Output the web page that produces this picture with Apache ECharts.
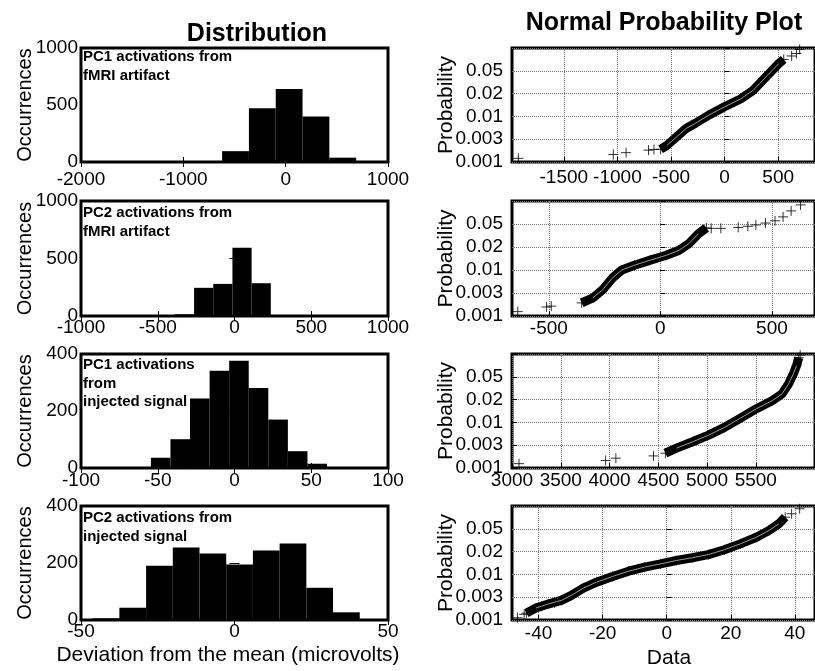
<!DOCTYPE html>
<html>
<head>
<meta charset="utf-8">
<title>Distribution / Normal Probability Plot</title>
<script src="https://cdn.jsdelivr.net/npm/echarts@6/dist/echarts.min.js"></script>
<style>
html, body { margin: 0; padding: 0; background: #fff; }
#main { width: 815px; height: 671px; }
</style>
</head>
<body>
<div id="main"></div>
<script>
// 直方图：各组中心与计数
var h1Bins = [-1800, -1538, -1276, -1014, -752, -490, -228, 34, 296, 558];
var h1Counts = [1, 0, 0, 2, 2, 95, 472, 641, 399, 38];
var h2Bins = [-576, -451, -326, -201, -76, 49, 174, 299, 424, 549];
var h2Counts = [1, 2, 15, 245, 279, 594, 285, 8, 6, 8];
var h3Bins = [-48.1, -35.35, -22.6, -9.85, 2.9, 15.65, 28.4, 41.15, 53.9];
var h3Counts = [36, 101, 244, 341, 376, 281, 170, 59, 15];
var h4Bins = [-41.85, -33.15, -24.45, -15.75, -7.05, 1.65, 10.35, 19.05, 27.75, 36.45];
var h4Counts = [6, 43, 190, 254, 233, 195, 244, 268, 113, 27];

// 正态概率图：y 为刻度序号 0..5，对应下面的标签
var probLabels = ['0.001', '0.003', '0.01', '0.02', '0.05', ''];

var p1Band = [[-597, 0.56], [-538, 0.73], [-448, 1.10], [-359, 1.47], [-269, 1.71], [-149, 2.05], [-1, 2.42],
  [148, 2.76], [268, 3.15], [357, 3.59], [446, 4.03], [506, 4.32], [551, 4.5]];
var p1Marks = [[-1924, 0.16], [-1038, 0.33], [-919, 0.41], [-710, 0.52], [-659, 0.55], [625, 4.65], [670, 4.76], [700, 4.94]];

var p2Band = [[-353, 0.57], [-302, 0.79], [-259, 1.14], [-216, 1.64], [-173, 2.0], [-116, 2.21], [-45, 2.43],
  [27, 2.64], [84, 2.86], [127, 3.14], [170, 3.57], [206, 3.83]];
var p2Marks = [[-639, 0.19], [-510, 0.39], [-489, 0.43], [228, 3.81], [271, 3.81], [349, 3.85], [392, 3.90],
  [428, 3.96], [471, 4.04], [514, 4.14], [550, 4.31], [586, 4.57], [628, 4.83]];

var p3Band = [[4573, 0.65], [4687, 0.87], [4852, 1.15], [5016, 1.44], [5179, 1.78], [5343, 2.19], [5507, 2.6],
  [5671, 2.96], [5769, 3.25], [5835, 3.68], [5884, 4.12], [5917, 4.48], [5940, 4.84]];
var p3Marks = [[3072, 0.19], [3960, 0.33], [4065, 0.43], [4451, 0.53], [5955, 4.95]];

var p4Band = [[-43.8, 0.3], [-40.8, 0.53], [-36.8, 0.71], [-32.9, 0.86], [-29.9, 1.07], [-25.9, 1.41], [-21.9, 1.66],
  [-16.9, 1.91], [-11.9, 2.14], [-6.9, 2.32], [-1.9, 2.46], [3.0, 2.61], [8.0, 2.73], [13.0, 2.87], [18.0, 3.08],
  [23.0, 3.34], [28.0, 3.63], [32.0, 3.93], [35.0, 4.22], [37.0, 4.51]];
var p4Marks = [[-46.6, 0.1], [-44.5, 0.25], [-42.0, 0.45], [-39.0, 0.6], [-35.0, 0.75], [39.0, 4.66], [41.5, 4.88]];

var FONT = '"Liberation Sans", Arial, Helvetica, sans-serif';
var rowTop = [48, 201, 354, 506];
var rowH = [114, 115, 114, 114];

var grids = [], xAxes = [], yAxes = [], series = [];

function pairs(xs, ys) {
  return xs.map(function (x, i) { return [x, ys[i]]; });
}
function plain(v) { return String(v); }

// 左列：直方图
var hists = [
  { bins: h1Bins, counts: h1Counts, xmin: -2000, xmax: 1000, xint: 1000, ymax: 1000, yint: 500, margin: 8 },
  { bins: h2Bins, counts: h2Counts, xmin: -1000, xmax: 1000, xint: 500, ymax: 1000, yint: 500, margin: 2 },
  { bins: h3Bins, counts: h3Counts, xmin: -100, xmax: 100, xint: 50, ymax: 400, yint: 200, margin: 3 },
  { bins: h4Bins, counts: h4Counts, xmin: -50, xmax: 50, xint: 50, ymax: 400, yint: 200, margin: 2 }
];
var tickStyle = { inside: true, length: 5, lineStyle: { color: '#000' } };
hists.forEach(function (h, i) {
  grids.push({ left: 81, top: rowTop[i], width: 307, height: rowH[i], show: true, borderColor: '#000', borderWidth: 3, backgroundColor: '#fff' });
  var gi = grids.length - 1;
  xAxes.push({
    type: 'value', gridIndex: gi, min: h.xmin, max: h.xmax, interval: h.xint,
    axisLine: { show: false }, splitLine: { show: false }, axisTick: tickStyle,
    axisLabel: { color: '#000', fontSize: 19, margin: h.margin, fontFamily: FONT, formatter: plain }
  });
  var xi = xAxes.length - 1;
  yAxes.push({
    type: 'value', gridIndex: gi, min: 0, max: h.ymax, interval: h.yint,
    axisLine: { show: false }, splitLine: { show: false }, axisTick: tickStyle,
    axisLabel: { color: '#000', fontSize: 19, margin: 3, fontFamily: FONT, formatter: plain }
  });
  var yi = yAxes.length - 1;
  // 上、右边框的刻度
  xAxes.push({
    type: 'value', gridIndex: gi, position: 'top', min: h.xmin, max: h.xmax, interval: h.xint,
    axisLine: { show: false }, splitLine: { show: false }, axisLabel: { show: false }, axisTick: tickStyle
  });
  yAxes.push({
    type: 'value', gridIndex: gi, position: 'right', min: 0, max: h.ymax, interval: h.yint,
    axisLine: { show: false }, splitLine: { show: false }, axisLabel: { show: false }, axisTick: tickStyle
  });
  series.push({
    type: 'bar', xAxisIndex: xi, yAxisIndex: yi,
    data: pairs(h.bins, h.counts), barWidth: '100%', silent: true,
    itemStyle: { color: '#000' }
  });
});

// 右列：正态概率图
var probs = [
  { band: p1Band, marks: p1Marks, xmin: -1983, xmax: 843, ticks: [-1500, -1000, -500, 0, 500], margin: 6 },
  { band: p2Band, marks: p2Marks, xmin: -665, xmax: 693, ticks: [-500, 0, 500], margin: 3 },
  { band: p3Band, marks: p3Marks, xmin: 3000, xmax: 6107, ticks: [3000, 3500, 4000, 4500, 5000, 5500], margin: 3 },
  { band: p4Band, marks: p4Marks, xmin: -48.3, xmax: 46.3, ticks: [-40, -20, 0, 20, 40], margin: 4 }
];
var plusSymbol = 'path://M5,0L5,10M0,5L10,5';
probs.forEach(function (p, i) {
  grids.push({ left: 512, top: rowTop[i], width: 316, height: rowH[i], show: true, borderColor: '#000', borderWidth: 3, backgroundColor: '#fff' });
  xAxes.push({
    type: 'value', gridIndex: grids.length - 1, min: p.xmin, max: p.xmax,
    axisLine: { show: false },
    splitLine: { show: true, lineStyle: { type: 'dotted', color: '#777' } },
    axisTick: { inside: true, length: 5, customValues: p.ticks, lineStyle: { color: '#000' } },
    axisLabel: { color: '#000', fontSize: 19, margin: p.margin, fontFamily: FONT, customValues: p.ticks, formatter: plain, hideOverlap: false }
  });
  yAxes.push({
    type: 'value', gridIndex: grids.length - 1, min: 0, max: 5, interval: 1,
    axisLine: { show: false },
    splitLine: { show: true, lineStyle: { type: 'dotted', color: '#777' } },
    axisTick: tickStyle,
    axisLabel: {
      color: '#000', fontSize: 19, margin: 9, fontFamily: FONT,
      formatter: function (v) { return probLabels[Math.round(v)]; }
    }
  });
  var xi = xAxes.length - 1, yi = yAxes.length - 1;
  series.push({
    type: 'line', xAxisIndex: xi, yAxisIndex: yi, data: p.band, symbol: 'none', silent: true,
    lineStyle: { color: '#000', width: 9 }
  });
  series.push({
    type: 'scatter', xAxisIndex: xi, yAxisIndex: yi, data: p.band.concat(p.marks), silent: true,
    symbol: plusSymbol, symbolSize: 10,
    itemStyle: { color: 'none', borderColor: '#000', borderWidth: 1 }
  });
  series.push({
    type: 'line', xAxisIndex: xi, yAxisIndex: yi, data: p.band.slice(1, -1), symbol: 'none', silent: true,
    lineStyle: { color: '#9a9a9a', width: 1 }
  });
});

// 文字
function txt(x, y, text, font, align, vAlign, rotation) {
  return {
    type: 'text', x: x, y: y, rotation: rotation || 0, silent: true, z: 100,
    style: {
      text: text, font: font, fill: '#000',
      align: align, textAlign: align, verticalAlign: vAlign, textVerticalAlign: vAlign,
      lineHeight: 18.5
    }
  };
}
var graphics = [
  txt(257, 34, 'Distribution', 'bold 25px ' + FONT, 'center', 'middle'),
  txt(664, 23, 'Normal Probability Plot', 'bold 25px ' + FONT, 'center', 'middle'),
  txt(83, 48, 'PC1 activations from\nfMRI artifact', 'bold 15px ' + FONT, 'left', 'top'),
  txt(83, 204, 'PC2 activations from\nfMRI artifact', 'bold 15px ' + FONT, 'left', 'top'),
  txt(83, 356, 'PC1 activations\nfrom\ninjected signal', 'bold 15px ' + FONT, 'left', 'top'),
  txt(83, 509, 'PC2 activations from\ninjected signal', 'bold 15px ' + FONT, 'left', 'top'),
  txt(228, 655, 'Deviation from the mean (microvolts)', '21px ' + FONT, 'center', 'middle'),
  txt(669, 658, 'Data', '21px ' + FONT, 'center', 'middle')
];
rowTop.forEach(function (t, i) {
  graphics.push(txt(25, t + rowH[i] / 2, 'Occurrences', '20px ' + FONT, 'center', 'middle', Math.PI / 2));
  graphics.push(txt(446, t + rowH[i] / 2, 'Probability', '21px ' + FONT, 'center', 'middle', Math.PI / 2));
});

var chart = echarts.init(document.getElementById('main'));
chart.setOption({
  animation: false,
  backgroundColor: '#fff',
  textStyle: { fontFamily: FONT },
  grid: grids,
  xAxis: xAxes,
  yAxis: yAxes,
  series: series,
  graphic: graphics
});
</script>
</body>
</html>
